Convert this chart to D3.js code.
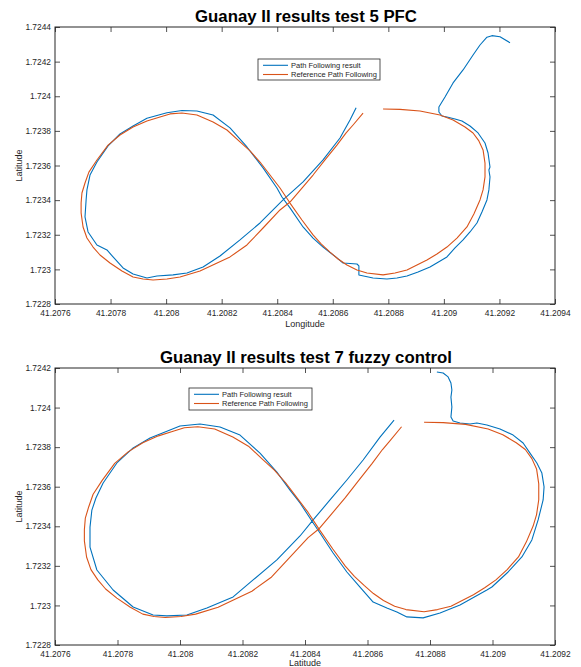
<!DOCTYPE html>
<html>
<head>
<meta charset="utf-8">
<script src="https://cdn.jsdelivr.net/npm/d3@7"></script>
<style>
  body { margin: 0; background: #fff; }
  svg { display: block; font-family: 'Liberation Sans', Arial, sans-serif; }
</style>
</head>
<body>
<svg id="chart"></svg>
<script>
// ---------------------------- data ----------------------------

// reference figure-eight (same in both tests), [longitude, latitude]
let referencePath = [
  [41.208781,1.723926],[41.208842,1.723924],[41.208914,1.723915],[41.208986,1.723892],[41.209033,1.723863],
  [41.209076,1.723822],[41.209105,1.723788],[41.209126,1.723742],[41.209141,1.723690],[41.209148,1.723614],
  [41.209148,1.723534],[41.209141,1.723459],[41.209130,1.723401],[41.209108,1.723320],[41.209083,1.723245],
  [41.209047,1.723181],[41.209011,1.723129],[41.208975,1.723089],[41.208939,1.723054],[41.208903,1.723025],
  [41.208867,1.722996],[41.208824,1.722979],[41.208781,1.722968],[41.208723,1.722979],[41.208687,1.722996],
  [41.208651,1.723025],[41.208619,1.723060],[41.208590,1.723100],[41.208558,1.723147],[41.208529,1.723199],
  [41.208489,1.723285],[41.208446,1.723383],[41.208410,1.723470],[41.208374,1.723545],[41.208338,1.723620],
  [41.208302,1.723684],[41.208266,1.723736],[41.208219,1.723805],[41.208169,1.723851],[41.208111,1.723892],
  [41.208057,1.723903],[41.208014,1.723898],[41.207978,1.723880],[41.207931,1.723857],[41.207881,1.723822],
  [41.207834,1.723776],[41.207791,1.723718],[41.207751,1.723632],[41.207722,1.723562],[41.207708,1.723499],
  [41.207697,1.723441],[41.207694,1.723383],[41.207694,1.723326],[41.207701,1.723245],[41.207715,1.723181],
  [41.207737,1.723129],[41.207762,1.723083],[41.207798,1.723037],[41.207841,1.722991],[41.207881,1.722956],
  [41.207917,1.722944],[41.207953,1.722939],[41.208003,1.722944],[41.208050,1.722956],[41.208122,1.722991],
  [41.208176,1.723031],[41.208230,1.723072],[41.208291,1.723141],[41.208349,1.723239],[41.208410,1.723343],
  [41.208446,1.723389],[41.208486,1.723464],[41.208529,1.723545],[41.208572,1.723632],[41.208615,1.723718],
  [41.208648,1.723788],[41.208673,1.723834],[41.208709,1.723903]
]

// test 5 (PFC) result
let test5Path = [
  [41.209238,1.724309],[41.209202,1.724344],[41.209173,1.724350],[41.209155,1.724341],[41.209130,1.724296],
  [41.209105,1.724238],[41.209069,1.724152],[41.209033,1.724077],[41.209004,1.723996],[41.208982,1.723938],
  [41.208982,1.723909],[41.208993,1.723886],[41.209011,1.723880],[41.209040,1.723869],[41.209065,1.723857],
  [41.209094,1.723828],[41.209123,1.723788],[41.209148,1.723730],[41.209159,1.723672],[41.209166,1.723591],
  [41.209162,1.723574],[41.209166,1.723534],[41.209162,1.723459],[41.209155,1.723401],[41.209137,1.723331],
  [41.209119,1.723268],[41.209094,1.723216],[41.209069,1.723170],[41.209040,1.723124],[41.209011,1.723072],
  [41.208950,1.723014],[41.208907,1.722985],[41.208867,1.722962],[41.208831,1.722950],[41.208795,1.722944],
  [41.208745,1.722950],[41.208694,1.722968],[41.208694,1.723020],[41.208687,1.723031],[41.208637,1.723037],
  [41.208615,1.723066],[41.208565,1.723129],[41.208529,1.723181],[41.208493,1.723245],[41.208446,1.723355],
  [41.208417,1.723418],[41.208399,1.723470],[41.208349,1.723586],[41.208291,1.723707],[41.208230,1.723817],
  [41.208169,1.723892],[41.208111,1.723915],[41.208057,1.723918],[41.208003,1.723905],[41.207931,1.723873],
  [41.207881,1.723828],[41.207834,1.723782],[41.207791,1.723713],[41.207751,1.723620],[41.207726,1.723545],
  [41.207715,1.723459],[41.207712,1.723401],[41.207708,1.723303],[41.207719,1.723216],[41.207751,1.723141],
  [41.207787,1.723112],[41.207809,1.723072],[41.207845,1.723008],[41.207881,1.722973],[41.207931,1.722950],
  [41.207967,1.722962],[41.208025,1.722968],[41.208075,1.722979],[41.208133,1.723014],[41.208194,1.723077],
  [41.208266,1.723170],[41.208338,1.723268],[41.208421,1.723401],[41.208493,1.723505],[41.208565,1.723632],
  [41.208626,1.723759],[41.208662,1.723863],[41.208684,1.723934]
]

// test 7 (fuzzy control) result
let test7Path = [
  [41.208822,1.724180],[41.208842,1.724175],[41.208858,1.724155],[41.208867,1.724124],[41.208870,1.724089],
  [41.208867,1.724053],[41.208870,1.724003],[41.208867,1.723952],[41.208874,1.723932],[41.208896,1.723922],
  [41.208928,1.723917],[41.208950,1.723922],[41.208982,1.723912],[41.209024,1.723892],[41.209066,1.723861],
  [41.209098,1.723821],[41.209120,1.723770],[41.209142,1.723720],[41.209158,1.723669],[41.209165,1.723599],
  [41.209162,1.723533],[41.209146,1.723432],[41.209126,1.723331],[41.209094,1.723245],[41.209050,1.723169],
  [41.208998,1.723093],[41.208982,1.723078],[41.208896,1.723002],[41.208832,1.722962],[41.208778,1.722937],
  [41.208726,1.722942],[41.208694,1.722967],[41.208662,1.722987],[41.208618,1.723017],[41.208576,1.723093],
  [41.208534,1.723169],[41.208490,1.723265],[41.208448,1.723366],[41.208422,1.723427],[41.208384,1.723518],
  [41.208352,1.723583],[41.208310,1.723674],[41.208256,1.723770],[41.208192,1.723861],[41.208128,1.723902],
  [41.208064,1.723917],[41.208000,1.723907],[41.207968,1.723887],[41.207904,1.723846],[41.207850,1.723796],
  [41.207798,1.723720],[41.207754,1.723619],[41.207731,1.723543],[41.207718,1.723482],[41.207712,1.723396],
  [41.207712,1.723295],[41.207734,1.723179],[41.207786,1.723078],[41.207850,1.722992],[41.207914,1.722952],
  [41.207958,1.722947],[41.208022,1.722952],[41.208086,1.722987],[41.208170,1.723043],[41.208234,1.723129],
  [41.208310,1.723230],[41.208384,1.723351],[41.208426,1.723432],[41.208480,1.723533],[41.208534,1.723634],
  [41.208586,1.723735],[41.208640,1.723851],[41.208685,1.723937]
]

// tick values of each plot
let xTicks5 = [41.2076, 41.2078, 41.2080, 41.2082, 41.2084, 41.2086, 41.2088, 41.2090, 41.2092, 41.2094]
let yTicks5 = [1.7228, 1.7230, 1.7232, 1.7234, 1.7236, 1.7238, 1.7240, 1.7242, 1.7244]
let xTicks7 = [41.2076, 41.2078, 41.2080, 41.2082, 41.2084, 41.2086, 41.2088, 41.2090, 41.2092]
let yTicks7 = [1.7228, 1.7230, 1.7232, 1.7234, 1.7236, 1.7238, 1.7240, 1.7242]

let titles = ['Guanay II results test 5 PFC', 'Guanay II results test 7 fuzzy control']
let xLabels = ['Longitude', 'Latitude']
let yLabels = ['Latitude', 'Latitude']
let seriesNames = ['Path Following result', 'Reference Path Following']

// ---------------------------- layout ----------------------------

let width = 581
let height = 667
let blue = '#0072bd'
let orange = '#d95319'
let axisColor = '#262626'

let svg = d3.select('#chart')
  .attr('width', width)
  .attr('height', height)

let panels = [
  { left: 55, right: 555, top: 27, bottom: 304, xTicks: xTicks5, yTicks: yTicks5,
    result: test5Path, title: titles[0], xLabel: xLabels[0], yLabel: yLabels[0],
    titleY: 22, xLabelY: 327, legend: { x: 258, y: 59, w: 122, h: 21 } },
  { left: 55, right: 555, top: 368, bottom: 645, xTicks: xTicks7, yTicks: yTicks7,
    result: test7Path, title: titles[1], xLabel: xLabels[1], yLabel: yLabels[1],
    titleY: 362.5, xLabelY: 665.5, legend: { x: 189, y: 388, w: 123, h: 22 } }
]

// MATLAB drops the trailing zeros: 1.7240 -> 1.724
let fmt = (d) => String(+d.toFixed(4))

let drawPanel = (p) => {
  let g = svg.append('g')

  let xScale = d3.scaleLinear()
    .domain([p.xTicks[0], p.xTicks[p.xTicks.length - 1]])
    .range([p.left, p.right])
  let yScale = d3.scaleLinear()
    .domain([p.yTicks[0], p.yTicks[p.yTicks.length - 1]])
    .range([p.bottom, p.top])

  // ticks point inwards on all four sides, labels only bottom and left
  let axes = [
    [d3.axisBottom(xScale).tickFormat(fmt), `translate(0,${p.bottom})`, p.xTicks, 6],
    [d3.axisTop(xScale).tickFormat(''), `translate(0,${p.top})`, p.xTicks, 4],
    [d3.axisLeft(yScale).tickFormat(fmt), `translate(${p.left},0)`, p.yTicks, 4],
    [d3.axisRight(yScale).tickFormat(''), `translate(${p.right},0)`, p.yTicks, 4]
  ]
  axes.forEach(([axis, tr, vals, pad]) => {
    let a = g.append('g')
      .attr('transform', tr)
      .call(axis.tickValues(vals).tickSizeInner(-5).tickSizeOuter(0).tickPadding(pad))
    a.select('.domain').remove()
    a.selectAll('line').attr('stroke', axisColor).attr('stroke-width', 0.8)
    a.selectAll('text').attr('fill', axisColor).style('font-size', '8.4px')
      .style('font-family', "'Liberation Sans', Arial, sans-serif")
  })

  // the two paths, result under reference
  let line = d3.line()
    .x((d) => xScale(d[0]))
    .y((d) => yScale(d[1]))

  g.append('path')
    .datum(p.result)
    .attr('d', line)
    .attr('fill', 'none')
    .attr('stroke', blue)
    .attr('stroke-width', 1.1)
    .attr('stroke-linejoin', 'round')

  g.append('path')
    .datum(referencePath)
    .attr('d', line)
    .attr('fill', 'none')
    .attr('stroke', orange)
    .attr('stroke-width', 1.1)
    .attr('stroke-linejoin', 'round')

  // box around the plot
  g.append('rect')
    .attr('x', p.left)
    .attr('y', p.top)
    .attr('width', p.right - p.left)
    .attr('height', p.bottom - p.top)
    .attr('fill', 'none')
    .attr('stroke', axisColor)
    .attr('stroke-width', 1)

  // title and axis labels
  let cx = (p.left + p.right) / 2
  g.append('text')
    .attr('x', cx + 1)
    .attr('y', p.titleY)
    .attr('text-anchor', 'middle')
    .style('font-size', '16.8px')
    .style('font-weight', 'bold')
    .text(p.title)

  g.append('text')
    .attr('x', cx)
    .attr('y', p.xLabelY)
    .attr('text-anchor', 'middle')
    .attr('fill', axisColor)
    .style('font-size', '9px')
    .text(p.xLabel)

  g.append('text')
    .attr('transform', `translate(22,${(p.top + p.bottom) / 2}) rotate(-90)`)
    .attr('text-anchor', 'middle')
    .attr('fill', axisColor)
    .style('font-size', '9px')
    .text(p.yLabel)

  // legend
  let lg = g.append('g').attr('transform', `translate(${p.legend.x},${p.legend.y})`)
  lg.append('rect')
    .attr('width', p.legend.w)
    .attr('height', p.legend.h)
    .attr('fill', '#fff')
    .attr('stroke', axisColor)
    .attr('stroke-width', 0.8)
  let rows = [[seriesNames[0], blue, 6.3], [seriesNames[1], orange, 15.5]]
  rows.forEach(([name, color, y]) => {
    lg.append('line')
      .attr('x1', 5).attr('x2', 30)
      .attr('y1', y).attr('y2', y)
      .attr('stroke', color)
      .attr('stroke-width', 1.1)
    lg.append('text')
      .attr('x', 33)
      .attr('y', y)
      .attr('dy', '0.35em')
      .attr('fill', axisColor)
      .style('font-size', '7.5px')
      .text(name)
  })
}

panels.forEach(drawPanel)
</script>
</body>
</html>
